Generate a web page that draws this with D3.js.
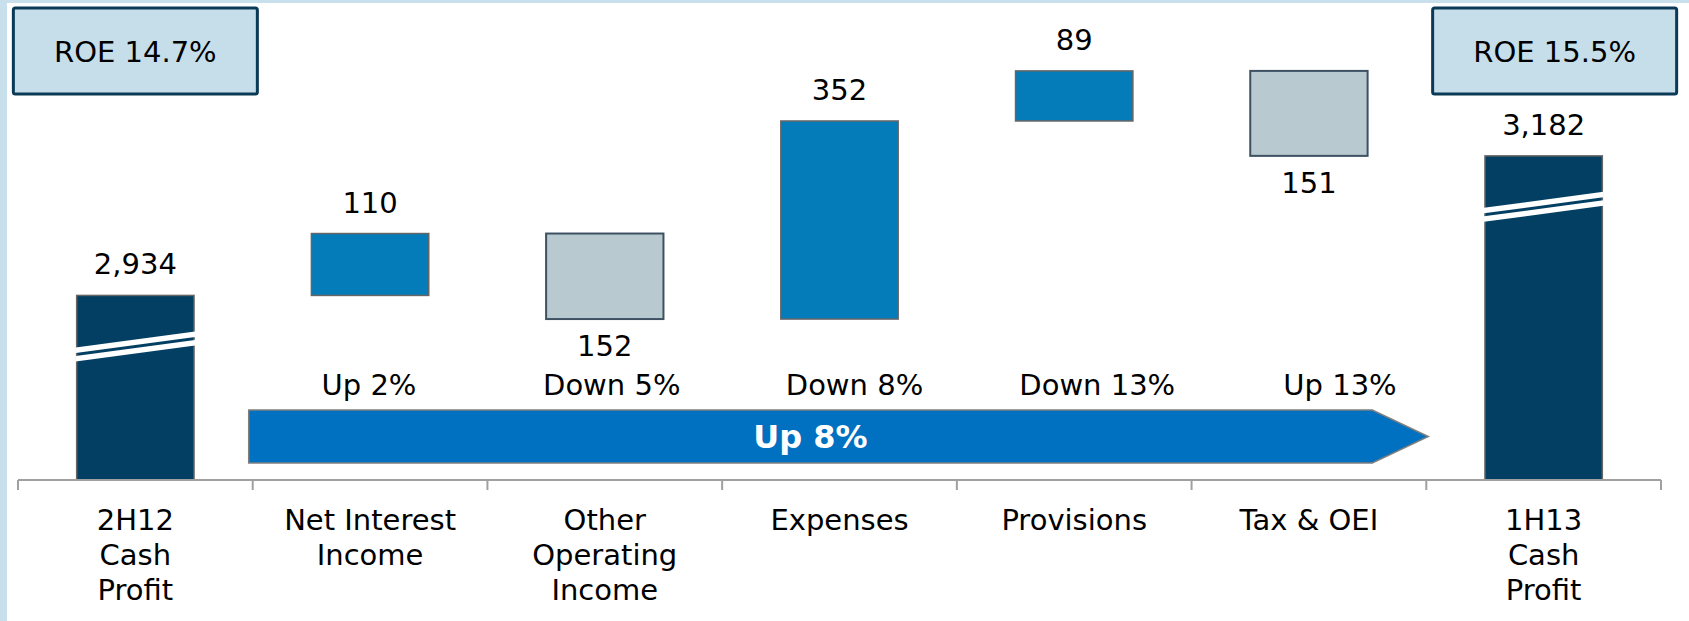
<!DOCTYPE html>
<html>
<head>
<meta charset="utf-8">
<script src="https://cdn.jsdelivr.net/npm/d3@7"></script>
<style>
  body { margin: 0; background: #fff; }
  text { font-family: "DejaVu Sans", Verdana, sans-serif; fill: #000; }
</style>
</head>
<body>
<svg id="chart" width="1689" height="621"></svg>
<script>
// data
var categories = ["2H12 Cash Profit", "Net Interest Income", "Other Operating Income", "Expenses", "Provisions", "Tax & OEI", "1H13 Cash Profit"];
var catLines = [["2H12", "Cash", "Profit"], ["Net Interest", "Income"], ["Other", "Operating", "Income"], ["Expenses"], ["Provisions"], ["Tax & OEI"], ["1H13", "Cash", "Profit"]];
var impacts = [2934, 110, -152, 352, 89, -151, 3182];   // first and last are totals
var changeLabels = ["Up 2%", "Down 5%", "Down 8%", "Down 13%", "Up 13%"];
var roeLabels = ["ROE 14.7%", "ROE 15.5%"];
var totalChange = "Up 8%";

var width = 1689, height = 621;
var axisY = 480;

var svg = d3.select("#chart");

// light blue frame on top and left
svg.append("rect").attr("x", 0).attr("y", 0).attr("width", width).attr("height", 3).attr("fill", "#c8dfec");
svg.append("rect").attr("x", 0).attr("y", 0).attr("width", 7).attr("height", height).attr("fill", "#c8dfec");

var x = d3.scaleBand()
  .domain(categories)
  .range([18, 1661])
  .paddingInner(0.5)
  .paddingOuter(0.25);

// broken value axis, so the domain does not start at zero
var y = d3.scaleLinear()
  .domain([2606, 3459])
  .range([axisY, 0]);

// build waterfall steps
var steps = [];
var running = 0;
for (var i = 0; i < categories.length; i++) {
  var total = (i == 0 || i == categories.length - 1);
  var s, e;
  if (total) { s = y.domain()[0]; e = impacts[i]; running = impacts[i]; }
  else { s = running; e = running + impacts[i]; running = e; }
  steps.push({ cat: categories[i], lo: Math.min(s, e), hi: Math.max(s, e), v: impacts[i], total: total });
}

function fillOf(d) { return d.total ? "#033f63" : (d.v > 0 ? "#047cba" : "#b8c9d0"); }
function strokeOf(d) { return d.v < 0 ? "#3e5163" : "#666"; }

svg.selectAll("rect.bar")
  .data(steps)
  .enter()
  .append("rect")
    .attr("class", "bar")
    .attr("x", function(d) { return x(d.cat); })
    .attr("y", function(d) { return y(d.hi); })
    .attr("width", x.bandwidth())
    .attr("height", function(d) { return y(d.lo) - y(d.hi); })
    .attr("fill", fillOf)
    .attr("stroke", strokeOf)
    .attr("stroke-width", function(d) { return d.v < 0 ? 2 : 1.5; });

// break marks on the two cash profit bars
steps.filter(function(d) { return d.total; }).forEach(function(d) {
  var x0 = x(d.cat) - 1, x1 = x(d.cat) + x.bandwidth() + 1;
  var top = y(d.hi);
  var cl = top + 59, cr = top + 43;
  [[-7, -1.5], [1.5, 7]].forEach(function(o) {
    svg.append("polygon")
      .attr("points", [[x0, cl + o[0]], [x1, cr + o[0]], [x1, cr + o[1]], [x0, cl + o[1]]].join(" "))
      .attr("fill", "#fff");
  });
});

// value labels
var fmt = d3.format(",");
svg.selectAll("text.val")
  .data(steps)
  .enter()
  .append("text")
    .attr("class", "val")
    .attr("x", function(d) { return x(d.cat) + x.bandwidth() / 2; })
    .attr("y", function(d) { return d.v < 0 ? y(d.lo) + 37 : y(d.hi) - 21; })
    .attr("text-anchor", "middle")
    .style("font-size", "29px")
    .text(function(d) { return fmt(Math.abs(d.v)); });

// x axis with ticks on the band boundaries
var step = x.step();
var x0 = x.range()[0];
svg.append("line")
  .attr("x1", x0).attr("x2", x.range()[1])
  .attr("y1", axisY).attr("y2", axisY)
  .attr("stroke", "#a0a0a0").attr("stroke-width", 2);
svg.selectAll("line.tick")
  .data(d3.range(categories.length + 1))
  .enter()
  .append("line")
    .attr("class", "tick")
    .attr("x1", function(i) { return x0 + i * step; })
    .attr("x2", function(i) { return x0 + i * step; })
    .attr("y1", axisY).attr("y2", axisY + 10)
    .attr("stroke", "#a0a0a0").attr("stroke-width", 2);

// category labels
var catText = svg.selectAll("text.cat")
  .data(categories)
  .enter()
  .append("text")
    .attr("class", "cat")
    .attr("text-anchor", "middle")
    .style("font-size", "29px");
catText.selectAll("tspan")
  .data(function(d, i) { return catLines[i].map(function(t) { return { t: t, c: d }; }); })
  .enter()
  .append("tspan")
    .attr("x", function(d) { return x(d.c) + x.bandwidth() / 2; })
    .attr("y", function(d, j) { return 530 + j * 35; })
    .text(function(d) { return d.t; });

// big arrow spanning the movement categories
var aLeft = x0 + step - 4;
var aTip = x0 + 6 * step + 2;
var aShaft = aTip - 56;
var aTop = 410, aBot = 463, aMid = (aTop + aBot) / 2;
svg.append("polygon")
  .attr("points", [[aLeft, aTop], [aShaft, aTop], [aTip, aMid], [aShaft, aBot], [aLeft, aBot]].join(" "))
  .attr("fill", "#0070c0")
  .attr("stroke", "#7f7f7f")
  .attr("stroke-width", 1.5);
svg.append("text")
  .attr("x", (aLeft + aShaft) / 2)
  .attr("y", aMid + 11)
  .attr("text-anchor", "middle")
  .style("font-size", "32px")
  .style("font-weight", "bold")
  .style("fill", "#fff")
  .text(totalChange);

// change labels above the arrow
var cx = d3.scalePoint().domain(changeLabels).range([369, 1340]);
svg.selectAll("text.chg")
  .data(changeLabels)
  .enter()
  .append("text")
    .attr("class", "chg")
    .attr("x", function(d) { return cx(d); })
    .attr("y", 395)
    .attr("text-anchor", "middle")
    .style("font-size", "29px")
    .text(function(d) { return d; });

// ROE boxes over the two totals
var roeCenters = [x(categories[0]) + x.bandwidth() / 2, x(categories[6]) + x.bandwidth() / 2 + 11];
var roe = svg.selectAll("g.roe")
  .data(roeLabels)
  .enter()
  .append("g")
    .attr("class", "roe")
    .attr("transform", function(d, i) { return "translate(" + roeCenters[i] + ",0)"; });
roe.append("rect")
  .attr("x", -122).attr("y", 8)
  .attr("width", 244).attr("height", 86)
  .attr("rx", 2)
  .attr("fill", "#c6deea")
  .attr("stroke", "#0b3a57")
  .attr("stroke-width", 3);
roe.append("text")
  .attr("x", 0).attr("y", 62)
  .attr("text-anchor", "middle")
  .style("font-size", "29px")
  .text(function(d) { return d; });
</script>
</body>
</html>
